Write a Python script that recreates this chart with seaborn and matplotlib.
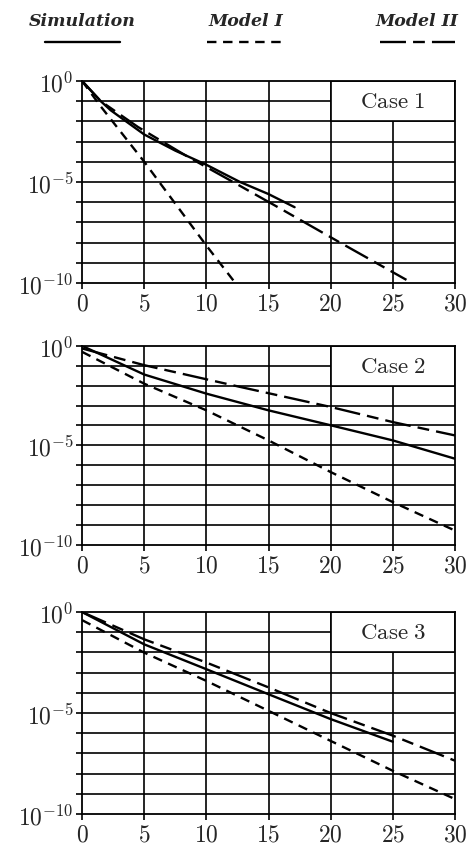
import numpy as np
import pandas as pd
import matplotlib
matplotlib.use("Agg")
import matplotlib.pyplot as plt
import seaborn as sns
from matplotlib.lines import Line2D
from matplotlib.patches import Rectangle

# --- data (log10 of the quantity) ---
# Case 1
sim1_x = [0, 1.5, 2.3, 5.0, 7.5, 10.0, 12.7, 15.0, 17.1]
sim1_y = [0, -1.0, -1.45, -2.65, -3.45, -4.15, -5.0, -5.6, -6.25]
m1_1_x = [0, 1.45, 5.0, 10.0, 12.2]
m1_1_y = [0, -1.22, -4.0, -8.15, -9.9]
m2_1_x = [0, 1.5, 4.5, 8.5, 12.0, 15.9, 20.75, 26.1]
m2_1_y = [0, -1.0, -2.28, -3.75, -4.95, -6.3, -8.0, -9.85]

# Case 2
sim2_x = [0, 5.0, 10.0, 15.0, 20.0, 25.0, 30.0]
sim2_y = [0, -1.44, -2.4, -3.24, -3.99, -4.75, -5.67]
m1_2_x = [0, 5.0, 10.0, 15.0, 20.0, 25.0, 30.0]
m1_2_y = [-0.3, -1.9, -3.24, -4.75, -6.34, -7.85, -9.28]
m2_2_x = [0, 5.0, 12.7, 20.0, 25.0, 30.0]
m2_2_y = [-0.13, -0.97, -2.06, -3.07, -3.83, -4.5]

# Case 3
sim3_x = [0, 5.0, 10.0, 15.0, 20.0, 25.0]
sim3_y = [0, -1.6, -2.83, -4.07, -5.3, -6.42]
m1_3_x = [0, 5.0, 10.0, 15.0, 20.0, 25.0, 30.0]
m1_3_y = [-0.4, -2.01, -3.41, -4.89, -6.38, -7.86, -9.26]
m2_3_x = [0, 5.0, 10.0, 15.0, 20.0, 25.0, 30.0]
m2_3_y = [0, -1.35, -2.5, -3.73, -5.0, -6.12, -7.36]

cases = ["Case 1", "Case 2", "Case 3"]
models = ["Simulation", "Model I", "Model II"]
x_ticks = [0, 5, 10, 15, 20, 25, 30]

panels = [
    [(sim1_x, sim1_y), (m1_1_x, m1_1_y), (m2_1_x, m2_1_y)],
    [(sim2_x, sim2_y), (m1_2_x, m1_2_y), (m2_2_x, m2_2_y)],
    [(sim3_x, sim3_y), (m1_3_x, m1_3_y), (m2_3_x, m2_3_y)],
]

sns.set_style("white")
plt.rcParams["mathtext.fontset"] = "cm"
plt.rcParams["font.family"] = ["DejaVu Serif"]

dash_map = {"Simulation": "", "Model I": (4, 2.8), "Model II": (11, 3, 5, 3)}

fig = plt.figure(figsize=(4.69, 8.45), dpi=100)
axes_rects = [
    [0.175, 0.664, 0.795, 0.239],
    [0.175, 0.354, 0.795, 0.2355],
    [0.175, 0.0355, 0.795, 0.239],
]

for rect, case, series in zip(axes_rects, cases, panels):
    ax = fig.add_axes(rect)
    rows = []
    for name, (xs, ys) in zip(models, series):
        for xv, yv in zip(xs, ys):
            rows.append({"t": xv, "p": 10.0 ** yv, "model": name})
    df = pd.DataFrame(rows)

    ax.set_yscale("log")
    ax.set_xlim(0, 30)
    ax.set_ylim(1e-10, 1)

    # grid
    for xv in x_ticks[1:-1]:
        ax.axvline(xv, color="black", lw=1.2, zorder=1)
    for k in range(-9, 0):
        ax.axhline(10.0 ** k, color="black", lw=1.2, zorder=1)

    # label box
    ax.add_patch(Rectangle((20, 1e-2), 10, 1 - 1e-2, facecolor="white",
                           edgecolor="black", lw=1.2, zorder=2))
    ax.text(25, 10 ** -1, r"$\mathrm{Case\ %s}$" % case.split()[1],
            ha="center", va="center", fontsize=16.5, zorder=3)

    sns.lineplot(data=df, x="t", y="p", style="model", dashes=dash_map,
                 color="black", lw=1.7, estimator=None, sort=False,
                 legend=False, ax=ax, zorder=4)

    ax.set_xticks(x_ticks)
    ax.set_xticklabels([r"$\mathbf{%d}$" % v for v in x_ticks], fontsize=17)
    ax.set_yticks([10.0 ** k for k in range(-10, 1)])
    ax.set_yticklabels([r"$\mathbf{10^{%d}}$" % k if k in (0, -5, -10) else ""
                        for k in range(-10, 1)], fontsize=17)
    ax.yaxis.set_minor_locator(matplotlib.ticker.NullLocator())
    ax.tick_params(axis="both", direction="out", length=4, width=1.2,
                   color="black", pad=2, left=True, bottom=True)
    ax.set_xlabel("")
    ax.set_ylabel("")
    for sp in ax.spines.values():
        sp.set_color("black")
        sp.set_linewidth(1.3)

# legend header
W, H = 469.0, 845.0
heads = [("Simulation", 82, 45, 120, ""), ("Model I", 246, 207, 282, (4, 2.8)),
         ("Model II", 417, 380, 455, (11, 3, 5, 3))]
for label, cx, x0, x1, dash in heads:
    fig.text(cx / W, 1 - 22 / H, label, ha="center", va="center",
             fontsize=12.5, style="italic", weight="bold")
    ln = Line2D([x0 / W, x1 / W], [1 - 43 / H, 1 - 43 / H], color="black",
                lw=1.7, transform=fig.transFigure)
    if dash:
        ln.set_dashes(dash)
    fig.lines.append(ln)

fig.savefig("out.png", dpi=100)
